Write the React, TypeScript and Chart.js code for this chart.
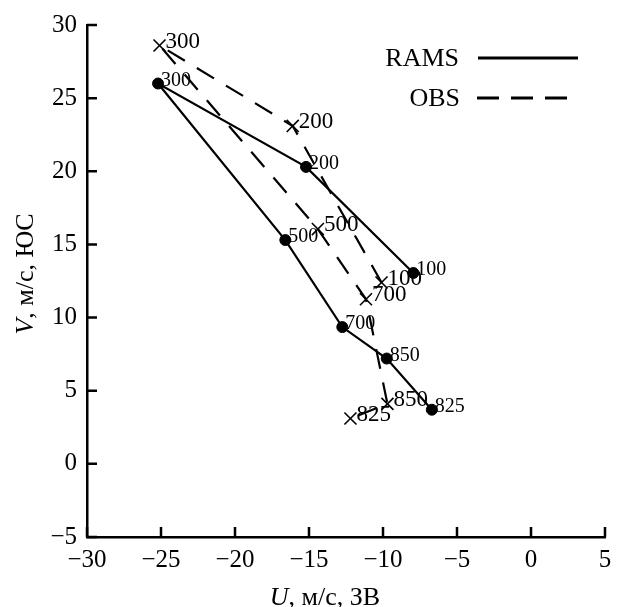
import React, { useEffect, useRef } from 'react';
import { Chart, registerables } from 'chart.js';

Chart.register(...registerables);

// ---- data ----
const levels = ['100', '200', '300', '500', '700', '850', '825'];
const ramsU = [-7.95, -15.2, -25.2, -16.6, -12.75, -9.75, -6.7];
const ramsV = [13.05, 20.3, 26.0, 15.3, 9.35, 7.2, 3.7];
const obsU = [-10.1, -16.1, -25.1, -14.4, -11.15, -9.7, -12.2];
const obsV = [12.4, 23.1, 28.6, 16.05, 11.25, 4.1, 3.1];
const xTicks = [-30, -25, -20, -15, -10, -5, 0, 5];
const yTicks = [-5, 0, 5, 10, 15, 20, 25, 30];
const seriesNames = ['RAMS', 'OBS'];
const xTitleItalic = 'U';
const xTitleRest = ', м/с, ЗВ';
const yTitleItalic = 'V';
const yTitleRest = ', м/с, ЮС';

const FONT = '"Liberation Serif", "Times New Roman", serif';
const minus = (v: number) => String(v).replace('-', '\u2212');

const overlayPlugin = {
  id: 'overlay',
  afterDatasetsDraw(chart: any) {
    const ctx = chart.ctx;
    const cfgs = [
      { i: 0, size: 20, dx: 3, dy: -3 },
      { i: 1, size: 23, dx: 6, dy: -4 },
    ];
    ctx.save();
    ctx.fillStyle = '#000';
    ctx.textAlign = 'left';
    ctx.textBaseline = 'middle';
    cfgs.forEach((c) => {
      const meta = chart.getDatasetMeta(c.i);
      ctx.font = `${c.size}px ${FONT}`;
      meta.data.forEach((pt: any, j: number) => {
        ctx.fillText(levels[j], pt.x + c.dx, pt.y + c.dy);
      });
    });
    ctx.restore();
  },
  afterDraw(chart: any) {
    const ctx = chart.ctx;
    const xs = chart.scales.x;
    const ys = chart.scales.y;
    const area = chart.chartArea;
    ctx.save();
    // inward ticks
    ctx.strokeStyle = '#000';
    ctx.lineWidth = 2.5;
    ctx.beginPath();
    xTicks.forEach((v) => {
      const px = xs.getPixelForValue(v);
      ctx.moveTo(px, area.bottom);
      ctx.lineTo(px, area.bottom - 10);
    });
    yTicks.forEach((v) => {
      const py = ys.getPixelForValue(v);
      ctx.moveTo(area.left, py);
      ctx.lineTo(area.left + 10, py);
    });
    ctx.stroke();

    // legend
    ctx.fillStyle = '#000';
    ctx.font = `26px ${FONT}`;
    ctx.textAlign = 'right';
    ctx.textBaseline = 'middle';
    ctx.fillText(seriesNames[0], 459, 59);
    ctx.fillText(seriesNames[1], 460, 99);
    ctx.lineWidth = 3;
    ctx.beginPath();
    ctx.moveTo(478, 58);
    ctx.lineTo(578, 58);
    ctx.stroke();
    ctx.setLineDash([22, 12]);
    ctx.beginPath();
    ctx.moveTo(477, 98);
    ctx.lineTo(578, 98);
    ctx.stroke();
    ctx.setLineDash([]);

    // x title
    ctx.textAlign = 'left';
    ctx.textBaseline = 'alphabetic';
    const italic = `italic 26px ${FONT}`;
    const normal = `26px ${FONT}`;
    ctx.font = italic;
    const w1 = ctx.measureText(xTitleItalic).width;
    ctx.font = normal;
    const w2 = ctx.measureText(xTitleRest).width;
    let x0 = 325 - (w1 + w2) / 2;
    ctx.font = italic;
    ctx.fillText(xTitleItalic, x0, 605);
    ctx.font = normal;
    ctx.fillText(xTitleRest, x0 + w1, 605);

    // y title
    ctx.translate(33, 274);
    ctx.rotate(-Math.PI / 2);
    ctx.font = italic;
    const v1 = ctx.measureText(yTitleItalic).width;
    ctx.font = normal;
    const v2 = ctx.measureText(yTitleRest).width;
    const y0 = -(v1 + v2) / 2;
    ctx.font = italic;
    ctx.fillText(yTitleItalic, y0, 0);
    ctx.font = normal;
    ctx.fillText(yTitleRest, y0 + v1, 0);
    ctx.restore();
  },
};

export default function App() {
  const ref = useRef<HTMLCanvasElement | null>(null);
  useEffect(() => {
    if (!ref.current) return;
    const chart = new Chart(ref.current, {
      type: 'scatter',
      data: {
        datasets: [
          {
            label: seriesNames[0],
            data: ramsU.map((u, i) => ({ x: u, y: ramsV[i] })),
            showLine: true,
            borderColor: '#000',
            borderWidth: 2.2,
            backgroundColor: '#000',
            pointStyle: 'circle',
            pointRadius: 5.5,
            pointBorderWidth: 1,
            pointBackgroundColor: '#000',
            pointBorderColor: '#000',
          },
          {
            label: seriesNames[1],
            data: obsU.map((u, i) => ({ x: u, y: obsV[i] })),
            showLine: true,
            borderColor: '#000',
            borderWidth: 2.2,
            borderDash: [20, 14],
            backgroundColor: '#000',
            pointStyle: 'crossRot',
            pointRadius: 8.5,
            pointBorderWidth: 1.6,
            pointBorderColor: '#000',
          },
        ],
      },
      options: {
        responsive: false,
        animation: false,
        devicePixelRatio: 1,
        layout: { padding: { left: 0, top: 24, right: 16, bottom: 0 } },
        plugins: { legend: { display: false }, tooltip: { enabled: false } },
        scales: {
          x: {
            type: 'linear',
            min: xTicks[0],
            max: xTicks[xTicks.length - 1],
            afterBuildTicks: (s: any) => {
              s.ticks = xTicks.map((v) => ({ value: v }));
            },
            afterFit: (s: any) => {
              s.height = 70;
            },
            grid: { display: false, drawTicks: false },
            border: { display: true, color: '#000', width: 2.5 },
            ticks: {
              padding: 8,
              color: '#000',
              font: { family: FONT, size: 25 },
              maxRotation: 0,
              autoSkip: false,
              callback: (v: any) => minus(Number(v)),
            },
          },
          y: {
            type: 'linear',
            min: yTicks[0],
            max: yTicks[yTicks.length - 1],
            afterBuildTicks: (s: any) => {
              s.ticks = yTicks.map((v) => ({ value: v }));
            },
            afterFit: (s: any) => {
              s.width = 87;
            },
            grid: { display: false, drawTicks: false },
            border: { display: true, color: '#000', width: 2.5 },
            ticks: {
              padding: 10,
              color: '#000',
              font: { family: FONT, size: 25 },
              autoSkip: false,
              callback: (v: any) => minus(Number(v)),
            },
          },
        },
      },
      plugins: [overlayPlugin],
    });
    return () => chart.destroy();
  }, []);
  return (
    <div style={{ position: 'fixed', left: 0, top: 0, width: 621, height: 607, background: '#fff' }}>
      <canvas ref={ref} width={621} height={607} style={{ display: 'block' }} />
    </div>
  );
}
